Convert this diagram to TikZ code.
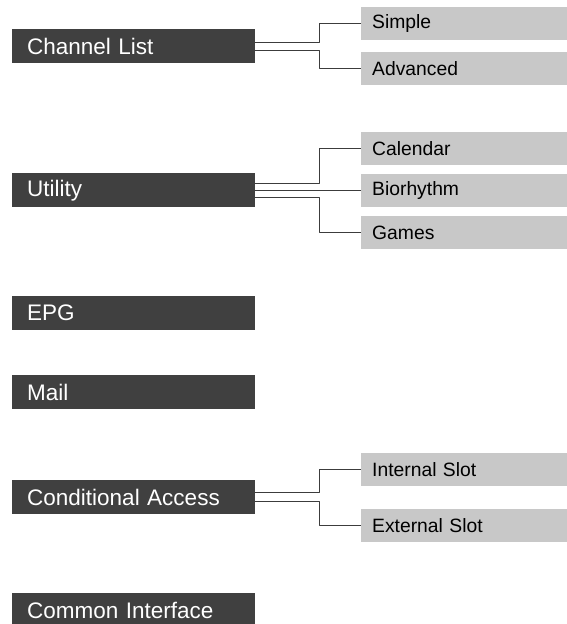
\documentclass[tikz,border=0pt]{standalone}
\usepackage{fontspec}
\setmainfont{Liberation Sans}
\definecolor{menudark}{HTML}{404040}
\definecolor{subgray}{HTML}{C8C8C8}
\definecolor{linkgray}{HTML}{3C3C3C}
\begin{document}
\begin{tikzpicture}[x=1pt, y=-1pt, line join=round,
	menu/.style={fill=menudark, text=white, anchor=north west, inner xsep=15pt, inner ysep=0pt,
		text width=213pt, minimum height=34pt, font=\fontsize{22.5}{25}\selectfont},
	sub/.style={fill=subgray, anchor=north west, inner xsep=11pt, inner ysep=0pt,
		text width=188pt, minimum height=33pt, font=\fontsize{19.3}{22}\selectfont},
	link/.style={draw=linkgray, line width=1.2pt}]
	\useasboundingbox (0,0) rectangle (567,624);
	% main menu
	\foreach \n/\y/\t in {chan/29/Channel List, util/173/Utility, epg/296/EPG, mail/375/Mail,
		ca/480/Conditional Access, ci/593/Common Interface}{
		\node[menu] (\n) at (12,\y) {\t};
	}
	% sub menus
	\foreach \n/\y/\t in {simple/7/Simple, adv/52/Advanced, cal/132/Calendar, bio/174/Biorhythm,
		games/216/Games, intl/453/Internal Slot, extl/509/External Slot}{
		\node[sub] (\n) at (361,\y) {\t};
	}
	% links
	\draw[link] ([yshift=4pt]chan.east) -- ++(64,0) |- (simple.west);
	\draw[link] ([yshift=-4pt]chan.east) -- ++(64,0) |- (adv.west);
	\draw[link] ([yshift=7pt]util.east) -- ++(64,0) |- (cal.west);
	\draw[link] (util.east) -- (util.east -| bio.west);
	\draw[link] ([yshift=-7pt]util.east) -- ++(64,0) |- (games.west);
	\draw[link] ([yshift=4.5pt]ca.east) -- ++(64,0) |- (intl.west);
	\draw[link] ([yshift=-4.5pt]ca.east) -- ++(64,0) |- (extl.west);
\end{tikzpicture}
\end{document}
